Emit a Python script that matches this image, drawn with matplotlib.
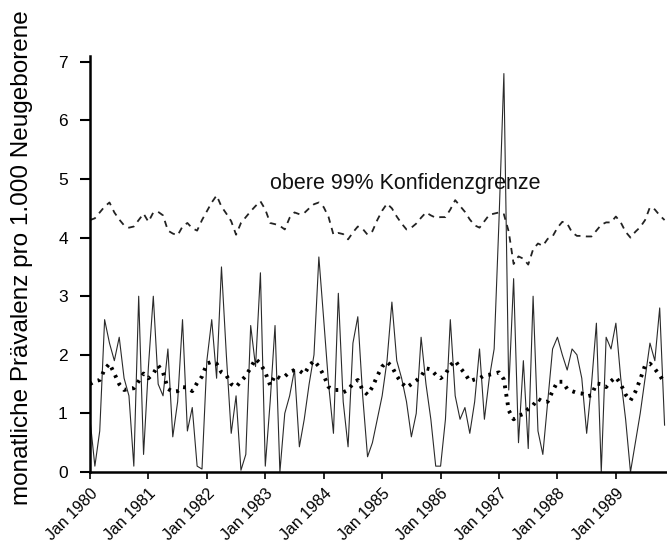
import matplotlib
matplotlib.use("Agg")
import matplotlib.pyplot as plt
import numpy as np

plt.rcParams['font.family'] = ['Liberation Sans', 'DejaVu Sans']

# monthly prevalence per 1,000 newborns, Jan 1980 onward
prevalence = [
    0.9, 0.1, 0.7, 2.6, 2.2, 1.9, 2.3, 1.6, 1.3, 0.1, 3.0, 0.3,
    1.8, 3.0, 1.5, 1.3, 2.1, 0.6, 1.2, 2.6, 0.7, 1.1, 0.1, 0.05,
    1.9, 2.6, 1.6, 3.5, 2.0, 0.66, 1.3, 0.03, 0.3, 2.5, 1.8, 3.4,
    0.1, 1.2, 2.5, 0.0, 1.0, 1.3, 1.75, 0.43, 0.9, 1.5, 2.0, 3.67,
    2.6, 1.5, 0.66, 3.05, 1.2, 0.43, 2.2, 2.65, 1.3, 0.26, 0.5, 0.9,
    1.3, 1.9, 2.9, 1.9, 1.6, 1.2, 0.6, 1.0, 2.3, 1.5, 0.9, 0.1,
    0.1, 0.9, 2.6, 1.3, 0.9, 1.1, 0.66, 1.2, 2.1, 0.9, 1.6, 2.1,
    4.3, 6.8, 1.4, 3.3, 0.5, 1.9, 0.4, 3.0, 0.7, 0.3, 1.2, 2.1,
    2.3, 2.0, 1.74, 2.1, 2.0, 1.6, 0.66, 1.5, 2.54, 0.0, 2.3, 2.1,
    2.54, 1.6, 0.9, 0.0, 0.5, 1.0, 1.6, 2.2, 1.9, 2.8, 0.8,
]

# expected value (dotted)
expected = [
    1.50, 1.55, 1.57, 1.75, 1.85, 1.68, 1.50, 1.40, 1.42, 1.43, 1.55, 1.68,
    1.60, 1.68, 1.82, 1.70, 1.42, 1.37, 1.38, 1.45, 1.44, 1.38, 1.52, 1.63,
    1.85, 1.88, 1.85, 1.70, 1.65, 1.50, 1.45, 1.55, 1.64, 1.78, 1.93, 1.85,
    1.70, 1.48, 1.65, 1.60, 1.63, 1.71, 1.74, 1.73, 1.67, 1.81, 1.90, 1.80,
    1.65, 1.45, 1.40, 1.40, 1.36, 1.40, 1.51, 1.57, 1.40, 1.32, 1.45, 1.64,
    1.80, 1.88, 1.80, 1.64, 1.52, 1.44, 1.50, 1.56, 1.63, 1.77, 1.75, 1.66,
    1.60, 1.67, 1.82, 1.90, 1.78, 1.68, 1.55, 1.58, 1.60, 1.65, 1.66, 1.68,
    1.70, 1.58, 1.05, 0.90, 0.96, 0.99, 1.08, 1.14, 1.25, 1.20, 1.20, 1.38,
    1.54, 1.54, 1.42, 1.38, 1.35, 1.34, 1.29, 1.31, 1.51, 1.50, 1.45, 1.55,
    1.62, 1.50, 1.32, 1.22, 1.37, 1.58, 1.82, 1.85, 1.76, 1.65, 1.52,
]

# upper 99% confidence limit (dashed)
upper99 = [
    4.30, 4.33, 4.43, 4.53, 4.60, 4.43, 4.31, 4.21, 4.17, 4.19, 4.30, 4.41,
    4.27, 4.43, 4.44, 4.38, 4.12, 4.07, 4.04, 4.19, 4.25, 4.16, 4.12, 4.30,
    4.45, 4.60, 4.72, 4.53, 4.41, 4.28, 4.05, 4.25, 4.35, 4.45, 4.54, 4.62,
    4.48, 4.25, 4.23, 4.20, 4.14, 4.34, 4.43, 4.40, 4.42, 4.50, 4.57, 4.60,
    4.52, 4.35, 4.05, 4.08, 4.06, 3.97, 4.09, 4.19, 4.15, 4.05, 4.11, 4.30,
    4.46, 4.58, 4.50, 4.36, 4.24, 4.14, 4.17, 4.24, 4.34, 4.43, 4.38, 4.34,
    4.35, 4.35, 4.48, 4.64, 4.54, 4.44, 4.31, 4.21, 4.17, 4.28, 4.39, 4.41,
    4.43, 4.40, 4.10, 3.55, 3.68, 3.64, 3.54, 3.80, 3.90, 3.86, 3.98, 4.02,
    4.17, 4.27, 4.24, 4.09, 4.03, 4.03, 4.02, 4.02, 4.12, 4.22, 4.26, 4.26,
    4.36, 4.26, 4.10, 4.00, 4.10, 4.18, 4.30, 4.52, 4.48, 4.38, 4.30,
]

year_labels = ["Jan 1980", "Jan 1981", "Jan 1982", "Jan 1983", "Jan 1984",
               "Jan 1985", "Jan 1986", "Jan 1987", "Jan 1988", "Jan 1989"]
y_ticks = [0, 1, 2, 3, 4, 5, 6, 7]
ylabel = "monatliche Prävalenz pro 1.000 Neugeborene"
annot = "obere 99% Konfidenzgrenze"

months = np.arange(len(prevalence))

fig = plt.figure(figsize=(6.67, 5.54), dpi=100)
ax = fig.add_axes([90/667, 82/554, 577/667, 416/554])

ax.plot(months, prevalence, color='#2a2a2a', lw=0.8)
ax.plot(months, expected, color='black', lw=2.8, linestyle=(0, (0.7, 1.5)),
        dash_capstyle='butt')
ax.plot(months, upper99, color='#222222', lw=1.3, linestyle=(0, (3.5, 3.0)))

ax.text(64.7, 4.93, annot, ha='center', va='center', fontsize=15.5,
        color='#111111')

ax.set_xlim(0, 118.5)
ax.set_ylim(0, 7.1)
ax.set_yticks(y_ticks)
ax.set_yticklabels([str(v) for v in y_ticks], fontsize=12.5)
ax.set_xticks(np.arange(0, 12*len(year_labels), 12))
ax.set_xticklabels(year_labels, rotation=45, ha='right', rotation_mode='anchor',
                   fontsize=11.5)
ax.tick_params(axis='y', length=7, width=1.5, pad=9)
ax.tick_params(axis='x', length=5, width=1.2, pad=5)

for s in ['top', 'right']:
    ax.spines[s].set_visible(False)
ax.spines['left'].set_linewidth(1.8)
ax.spines['bottom'].set_linewidth(1.8)

fig.text(22/667, 1 - 258/554, ylabel, rotation=90, ha='center', va='center',
         fontsize=17.5)

fig.savefig("out.png", dpi=100)
